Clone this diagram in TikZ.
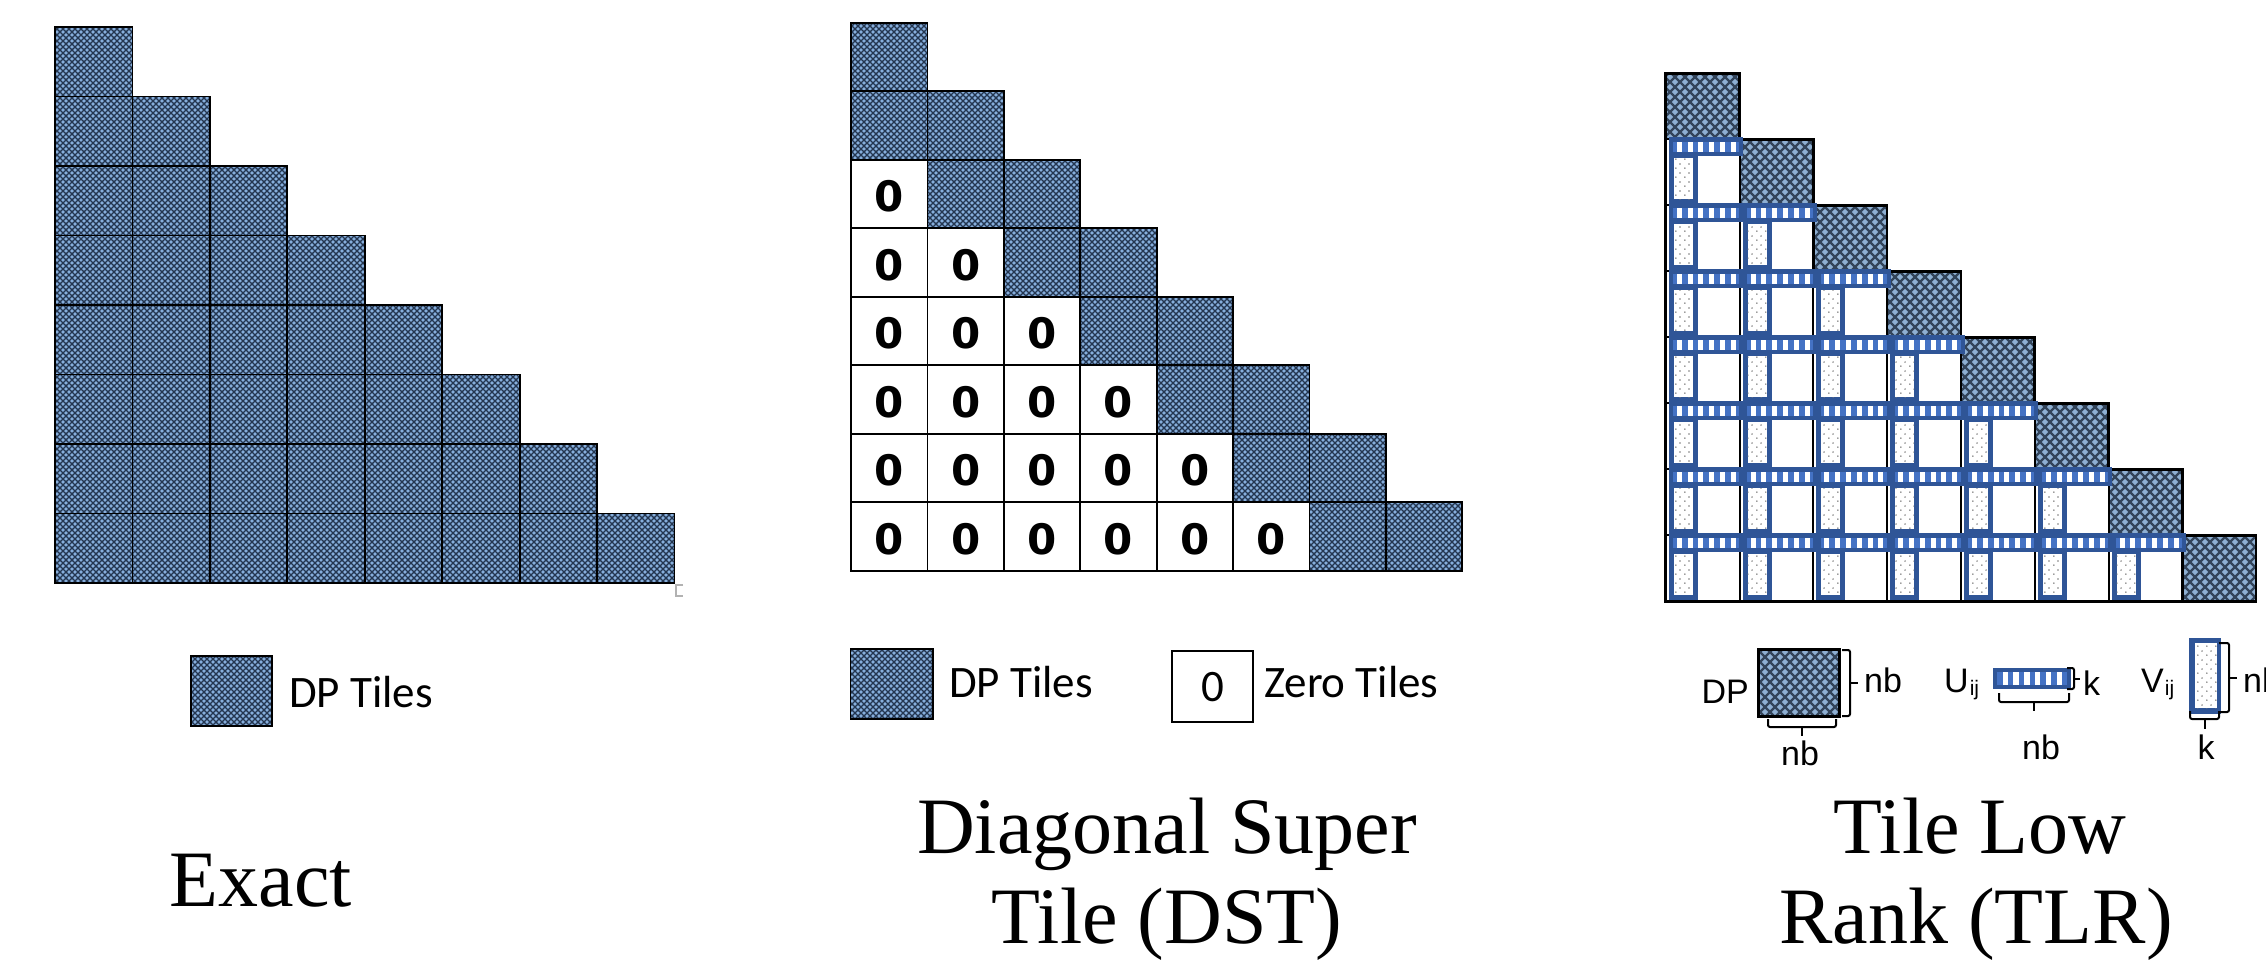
\documentclass[tikz,border=0pt]{standalone}
\usepackage{fontspec}
\usetikzlibrary{patterns}
\newfontfamily\carl{Carlito}
\newfontfamily\lsans{Liberation Sans}
\newfontfamily\dvsans{DejaVu Sans}
\newfontfamily\palfont{Liberation Serif}
\definecolor{dplight}{HTML}{86AEDC}
\definecolor{dpdark}{HTML}{243650}
\definecolor{tlrlight}{HTML}{8EAFD2}
\definecolor{tlrdark}{HTML}{33445A}
\definecolor{ublue}{HTML}{2F5597}
\definecolor{umid}{HTML}{4472C4}
\definecolor{dotgray}{HTML}{7A7A7A}
\pgfdeclarepatterninherentlycolored{dphatch}{\pgfpoint{-1pt}{-1pt}}{\pgfpoint{7pt}{7pt}}{\pgfpoint{6pt}{6pt}}{%
  \pgfsetstrokecolor{dpdark}\pgfsetlinewidth{1.3pt}%
  \pgfpathmoveto{\pgfpoint{-1pt}{-1pt}}\pgfpathlineto{\pgfpoint{7pt}{7pt}}%
  \pgfpathmoveto{\pgfpoint{-1pt}{7pt}}\pgfpathlineto{\pgfpoint{7pt}{-1pt}}%
  \pgfusepath{stroke}}
\pgfdeclarepatterninherentlycolored{tlrhatch}{\pgfpoint{-1pt}{-1pt}}{\pgfpoint{11pt}{11pt}}{\pgfpoint{10pt}{10pt}}{%
  \pgfsetstrokecolor{tlrdark}\pgfsetlinewidth{2.2pt}%
  \pgfpathmoveto{\pgfpoint{-1pt}{-1pt}}\pgfpathlineto{\pgfpoint{11pt}{11pt}}%
  \pgfpathmoveto{\pgfpoint{-1pt}{11pt}}\pgfpathlineto{\pgfpoint{11pt}{-1pt}}%
  \pgfusepath{stroke}}
\pgfdeclarepatterninherentlycolored{vdots}{\pgfpointorigin}{\pgfpoint{9pt}{9pt}}{\pgfpoint{9pt}{9pt}}{%
  \pgfsetfillcolor{dotgray}%
  \pgfpathcircle{\pgfpoint{2pt}{2pt}}{0.9pt}%
  \pgfpathcircle{\pgfpoint{6.5pt}{6.5pt}}{0.9pt}%
  \pgfusepath{fill}}
\tikzset{
  dptile/.style={preaction={fill=dplight}, pattern=dphatch, draw=black, line width=1.8pt},
  tlrtile/.style={preaction={fill=tlrlight}, pattern=tlrhatch, draw=black, line width=2.5pt},
  zerotile/.style={fill=white, draw=black, line width=1.8pt},
  zerolabel/.style={font=\dvsans\bfseries\fontsize{42}{42}\selectfont, inner sep=0},
  captxt/.style={font=\palfont\fontsize{80}{92}\selectfont, inner sep=0, anchor=base},
  legtxt/.style={font=\carl\fontsize{45}{54}\selectfont, inner sep=0, anchor=base west},
  tlrtxt/.style={font=\lsans\fontsize{34}{40}\selectfont, inner sep=0},
  bracepath/.style={draw=black, line width=2pt, rounded corners=2pt},
  vouter/.style={fill=ublue},
  vinner/.style={preaction={fill=white}, pattern=vdots},
}
\begin{document}
\begin{tikzpicture}[x=1pt,y=-1pt]
\useasboundingbox (0,0) rectangle (2266,962);
\fill[white] (0,0) rectangle (2266,962);

% ---------------- Exact ----------------
\foreach \i in {0,...,7}{
  \foreach \j in {0,...,\i}{
    \path[dptile] ({55+\j*77.44},{27+\i*69.5}) rectangle ++(77.44,69.5);
  }
}
\draw[gray!60, line width=2pt] (683,585) -- (676,585) -- (676,596) -- (683,596);
\path[dptile] (190.6,656) rectangle (272.3,725.7);
\node[legtxt] (exleg) at (289,707) {DP Tiles};
\node[captxt] (excap) at (261,906) {Exact};

% ---------------- DST ----------------
\foreach \i in {0,...,7}{
  \foreach \j in {0,...,\i}{
    \pgfmathtruncatemacro\lim{\i-2}
    \ifnum\j>\lim
      \path[dptile] ({851+\j*76.4},{22.7+\i*68.5}) rectangle ++(76.4,68.5);
    \else
      \path[zerotile] ({851+\j*76.4},{22.7+\i*68.5}) rectangle ++(76.4,68.5);
      \node[zerolabel] (z\i\j) at ({851+\j*76.4+38.2},{22.7+\i*68.5+37}) {0};
    \fi
  }
}
\path[dptile] (850.4,649) rectangle (932.6,719);
\node[legtxt] (dstdp) at (949,697) {DP Tiles};
\path[zerotile] (1172,651) rectangle (1253,722);
\node[font=\carl\fontsize{45}{54}\selectfont, inner sep=0, anchor=base] (dstz) at (1212.5,701) {0};
\node[legtxt] (dstzt) at (1264,697) {Zero Tiles};
\node[captxt] (dstcapa) at (1167,853) {Diagonal Super};
\node[captxt] (dstcapb) at (1167,943) {Tile (DST)};

% ---------------- TLR ----------------
\foreach \i in {0,...,7}{
  \path[tlrtile] ({1665.7+\i*73.8},{73.3+\i*66}) rectangle ++(73.8,66);
}
% white tiles
\foreach \i in {1,...,7}{
  \pgfmathtruncatemacro\lim{\i-1}
  \foreach \j in {0,...,\lim}{
    \draw[black, line width=2pt, fill=white] ({1665.7+\j*73.8},{73.3+\i*66}) rectangle ++(73.8,66);
  }
}
% V strips
\foreach \i in {1,...,7}{
  \pgfmathtruncatemacro\lim{\i-1}
  \foreach \j in {0,...,\lim}{
    \begin{scope}[shift={({1665.7+\j*73.8},{73.3+\i*66})}]
      \path[vouter] (3,15) rectangle (32,65);
      \path[vinner] (8,19) rectangle (27,60);
    \end{scope}
  }
}
% U bars
\foreach \i in {1,...,7}{
  \pgfmathtruncatemacro\lim{\i-1}
  \foreach \j in {0,...,\lim}{
    \begin{scope}[shift={({1665.7+\j*73.8},{73.3+\i*66})}]
      \fill[ublue] (3,-2.5) rectangle (77.5,17);
      \fill[umid] (7.5,3) rectangle (73.5,12.5);
      \foreach \s in {0,...,5}{
        \fill[white] ({11+\s*10.8},3) rectangle ++(5,9.5);
      }
    \end{scope}
  }
}
\draw[black, line width=3pt] (1665.7,139.3) -- (1665.7,601.3) -- (2182.3,601.3);

% TLR legend
\node[tlrtxt, anchor=base east] (tdp) at (1749,703) {DP};
\path[tlrtile] (1758.6,649.3) rectangle (1839.6,716.7);
\path[bracepath] (1842,650) -- (1850,650) -- (1850,716) -- (1842,716);
\path[bracepath] (1850,683) -- (1858,683);
\node[tlrtxt, anchor=base west] (tnb1) at (1864,692) {nb};
\path[bracepath] (1768,719) -- (1768,727) -- (1836,727) -- (1836,719);
\path[bracepath] (1802,727) -- (1802,736);
\node[tlrtxt, anchor=base] (tnb2) at (1800,765) {nb};

\node[tlrtxt, anchor=base west] (tu) at (1944,692) {U\kern1pt\raisebox{-3pt}{\fontsize{21}{21}\selectfont ij}};
\fill[ublue] (1993,667.7) rectangle (2071,689.3);
\fill[umid] (1997,672) rectangle (2067,685);
\foreach \s in {0,...,5}{
  \fill[white] ({2002.5+\s*10.8},672) rectangle ++(5.5,13);
}
\path[bracepath] (2067,668) -- (2074,668) -- (2074,689) -- (2067,689);
\path[bracepath] (2074,679) -- (2080,679);
\node[tlrtxt, anchor=base west] (tk1) at (2083,695) {k};
\path[bracepath] (1999,693) -- (1999,702) -- (2069,702) -- (2069,693);
\path[bracepath] (2034,702) -- (2034,711);
\node[tlrtxt, anchor=base] (tnb3) at (2041,759) {nb};

\node[tlrtxt, anchor=base west] (tv) at (2141,692) {V\kern1pt\raisebox{-3pt}{\fontsize{21}{21}\selectfont ij}};
\path[vouter] (2189,638) rectangle (2221,714);
\path[vinner] (2195,643) rectangle (2217,708);
\path[bracepath] (2219,643) -- (2229,643) -- (2229,712) -- (2219,712);
\path[bracepath] (2229,678) -- (2237,678);
\node[tlrtxt, anchor=base west] (tnb4) at (2243,692) {nb};
\path[bracepath] (2190,711) -- (2190,719) -- (2219,719) -- (2219,711);
\path[bracepath] (2205,719) -- (2205,729);
\node[tlrtxt, anchor=base] (tk2) at (2206,759) {k};

\node[captxt] (tlrcapa) at (1980,853) {Tile Low};
\node[captxt] (tlrcapb) at (1976,943) {Rank (TLR)};
\end{tikzpicture}
\end{document}
